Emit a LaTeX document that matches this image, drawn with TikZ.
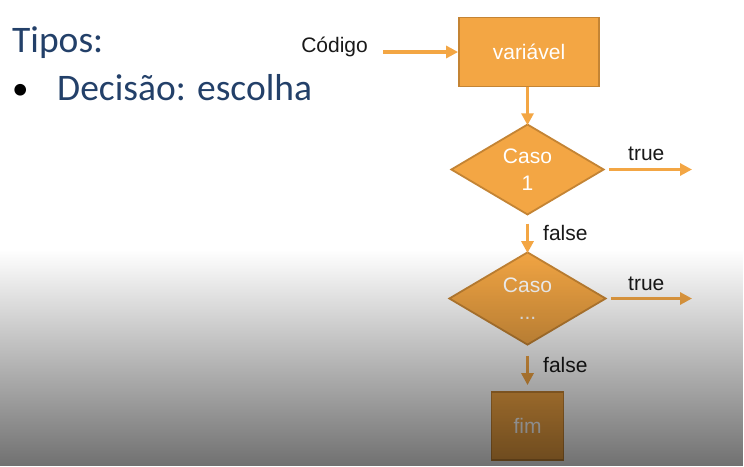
\documentclass[tikz,border=0pt]{standalone}
\usepackage{fontspec}
\setmainfont{Liberation Sans}
\newfontfamily\calib{Carlito}
\usetikzlibrary{shapes.geometric,arrows.meta,fadings}
\definecolor{boxfill}{RGB}{243,166,68}
\definecolor{boxline}{RGB}{196,132,52}
\definecolor{titleblue}{RGB}{35,64,105}
\tikzfading[name=darkdown, top color=transparent!100, bottom color=transparent!44]
\tikzset{
  flowbox/.style={draw=boxline, line width=1.8pt, fill=boxfill, text=white, font=\fontsize{21}{25}\selectfont, inner sep=0pt},
  decis/.style={diamond, flowbox, minimum width=153pt, minimum height=89pt, align=center},
  flowarrow/.style={draw=boxfill, line width=3.5pt, -{Triangle[length=12pt,width=12pt]}},
  lbl/.style={text=black!90, font=\fontsize{21}{25}\selectfont, inner sep=0pt},
}
\begin{document}
\begin{tikzpicture}[x=1pt,y=-1pt]
\useasboundingbox (0,0) rectangle (744,466);
\fill[white] (0,0) rectangle (744,466);
% title texts
\node[anchor=base west, inner sep=0pt, text=titleblue, font=\calib\fontsize{37.5}{40}\selectfont] (tipos) at (12,52) {Tipos:};
\node[anchor=base west, inner sep=0pt, text=black, font=\calib\fontsize{33}{40}\selectfont] (bul) at (12,99) {\textbullet};
\node[anchor=base west, inner sep=0pt, text=titleblue, font=\calib\fontsize{37.5}{40}\selectfont] (dec) at (57,100) {Decisão: escolha};
% flow
\node[lbl, anchor=east] (cod) at (368,47) {Código};
\node[flowbox, minimum width=140pt, minimum height=69pt] (var) at (529,52) {variável};
\coordinate (codend) at (383,52);
\draw[flowarrow] (codend) -- (var.west);
\node[decis] (c1) at (527.5,169.5) {Caso\\[2pt]1};
\draw[flowarrow] (c1.north |- var.south) -- ([yshift=-2pt]c1.north);
\coordinate (tx) at (692,0);
\draw[flowarrow] ([xshift=4pt]c1.east) -- (c1.east -| tx);
\node[lbl, anchor=base west] (true1) at (628,160) {true};
\node[decis, minimum width=157pt, minimum height=93pt] (c2) at (527.5,298.5) {Caso\\[2pt]...};
\draw[flowarrow] ([yshift=-8pt]c1.south) -- ([yshift=-2pt]c2.north);
\node[lbl, anchor=base west] (false1) at (543,240) {false};
\draw[flowarrow] ([xshift=4pt]c2.east) -- (c2.east -| tx);
\node[lbl, anchor=base west] (true2) at (628,290) {true};
\node[flowbox, minimum width=72pt, minimum height=68pt] (fim) at (527.5,426) {fim};
\draw[flowarrow] ([yshift=-10pt]c2.south) -- ([yshift=6pt]fim.north);
\node[lbl, anchor=base west] (false2) at (543,372) {false};
% darkening gradient
\fill[black, path fading=darkdown] (0,250) rectangle (744,466);
\end{tikzpicture}
\end{document}
